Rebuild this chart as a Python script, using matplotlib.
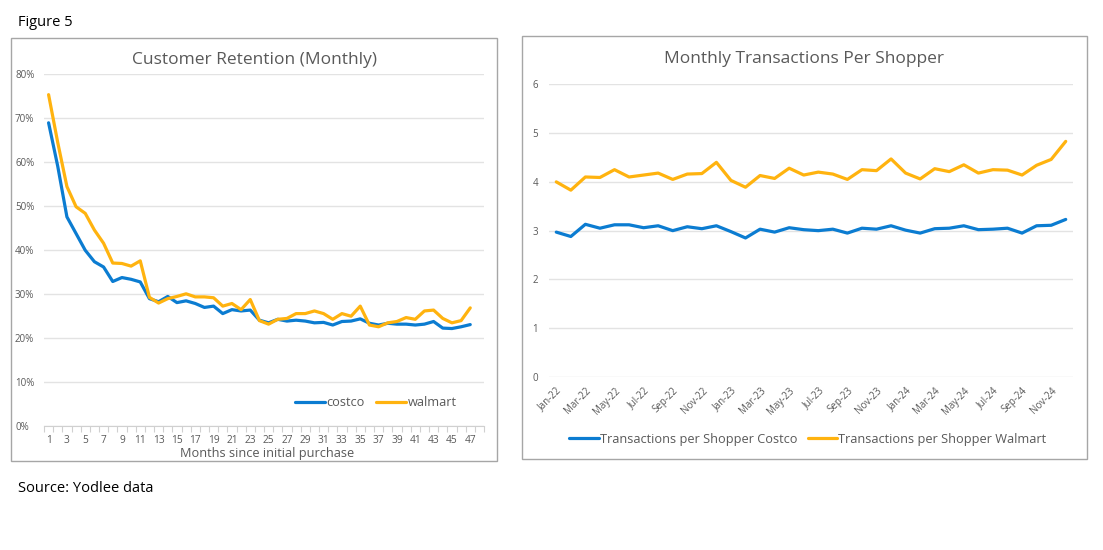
import matplotlib
matplotlib.use("Agg")
import matplotlib.pyplot as plt
from matplotlib.patches import Rectangle
from matplotlib.ticker import FuncFormatter, FixedLocator

plt.rcParams['font.family'] = ['Open Sans', 'DejaVu Sans']

# ---------------- data ----------------
months = list(range(1, 48))
costco_ret = [68.9, 59.0, 47.5, 43.7, 39.9, 37.3, 36.1, 32.8, 33.7, 33.3,
              32.7, 28.9, 28.2, 29.4, 28.0, 28.4, 27.8, 26.9, 27.2, 25.5,
              26.4, 26.1, 26.3, 24.0, 23.4, 24.2, 23.8, 24.0, 23.8, 23.4,
              23.5, 22.9, 23.7, 23.8, 24.3, 23.3, 22.9, 23.3, 23.1, 23.1,
              22.9, 23.1, 23.7, 22.2, 22.1, 22.5, 23.0]
walmart_ret = [75.3, 64.4, 54.4, 49.8, 48.3, 44.5, 41.5, 37.0, 36.9, 36.3,
               37.5, 29.2, 27.9, 28.9, 29.4, 30.0, 29.3, 29.3, 29.1, 27.2,
               27.8, 26.4, 28.7, 23.9, 23.1, 24.2, 24.4, 25.5, 25.5, 26.1,
               25.5, 24.2, 25.5, 24.9, 27.2, 22.9, 22.5, 23.4, 23.7, 24.6,
               24.2, 26.1, 26.3, 24.4, 23.4, 23.9, 26.8]
n_month_cats = 48
ret_yticks = [0, 10, 20, 30, 40, 50, 60, 70, 80]

dates = ["Jan-22", "Feb-22", "Mar-22", "Apr-22", "May-22", "Jun-22", "Jul-22", "Aug-22",
         "Sep-22", "Oct-22", "Nov-22", "Dec-22", "Jan-23", "Feb-23", "Mar-23", "Apr-23",
         "May-23", "Jun-23", "Jul-23", "Aug-23", "Sep-23", "Oct-23", "Nov-23", "Dec-23",
         "Jan-24", "Feb-24", "Mar-24", "Apr-24", "May-24", "Jun-24", "Jul-24", "Aug-24",
         "Sep-24", "Oct-24", "Nov-24", "Dec-24"]
costco_tx = [2.97, 2.88, 3.13, 3.05, 3.12, 3.12, 3.06, 3.10, 3.00, 3.08,
             3.04, 3.10, 2.98, 2.85, 3.03, 2.97, 3.06, 3.02, 3.00, 3.03,
             2.95, 3.05, 3.03, 3.10, 3.01, 2.95, 3.04, 3.05, 3.10, 3.02,
             3.03, 3.05, 2.95, 3.10, 3.11, 3.23]
walmart_tx = [4.00, 3.83, 4.10, 4.09, 4.25, 4.10, 4.14, 4.18, 4.05, 4.16,
              4.17, 4.40, 4.03, 3.89, 4.13, 4.07, 4.28, 4.14, 4.20, 4.16,
              4.05, 4.25, 4.23, 4.47, 4.18, 4.06, 4.27, 4.21, 4.35, 4.18,
              4.25, 4.24, 4.14, 4.34, 4.46, 4.83]
tx_yticks = [0, 1, 2, 3, 4, 5, 6]

# ---------------- style ----------------
BLUE = '#0B7CD1'
GOLD = '#FFB30F'
GRID = '#E3E3E3'
TXT = '#595959'

W, H = 1103, 550
fig = plt.figure(figsize=(W / 100, H / 100), dpi=100)


def fx(px):
    return px / W


def fy(py):
    return 1 - py / H


PX2PT = 72 / 100

# panel frames
for (x0, y0, x1, y1) in [(11, 38, 497, 461), (522, 36, 1087, 459)]:
    fig.add_artist(Rectangle((fx(x0), fy(y1)), fx(x1 - x0), (y1 - y0) / H,
                             transform=fig.transFigure, fill=False,
                             edgecolor='#A6A6A6', linewidth=1.0))

fig.text(fx(18), fy(22), "Figure 5", fontsize=10.5, color='black', va='center', ha='left')
fig.text(fx(18), fy(488), "Source: Yodlee data", fontsize=10.5, color='black', va='center', ha='left')

# ---------------- left chart ----------------
ax1 = fig.add_axes([fx(44), fy(425.7), fx(484 - 44), (425.7 - 74) / H])
ax1.plot(months, costco_ret, color=BLUE, lw=2.3, solid_joinstyle='round', solid_capstyle='round', label='costco')
ax1.plot(months, walmart_ret, color=GOLD, lw=2.3, solid_joinstyle='round', solid_capstyle='round', label='walmart')
ax1.set_xlim(0.5, n_month_cats + 0.5)
ax1.set_ylim(0, 80)
ax1.set_yticks(ret_yticks)
ax1.yaxis.set_major_formatter(FuncFormatter(lambda v, p: f"{int(v)}%"))
ax1.set_xticks(months[::2])
ax1.set_xticklabels([str(m) for m in months[::2]])
ax1.xaxis.set_minor_locator(FixedLocator([i + 0.5 for i in range(0, n_month_cats + 1)]))
ax1.tick_params(axis='x', which='major', length=0, pad=7, labelsize=7.3, labelcolor=TXT)
ax1.tick_params(axis='x', which='minor', length=4, color='#D0D0D0', width=0.8)
ax1.tick_params(axis='y', length=0, pad=29 * PX2PT, labelsize=7, labelcolor=TXT)
for lab in ax1.get_yticklabels():
    lab.set_horizontalalignment('left')
ax1.grid(axis='y', color=GRID, lw=1.0)
ax1.set_axisbelow(True)
for s in ['top', 'right', 'left']:
    ax1.spines[s].set_visible(False)
ax1.spines['bottom'].set_color('#D0D0D0')
fig.text(fx(254), fy(60), "Customer Retention (Monthly)", fontsize=12.5, color=TXT,
         ha='center', va='center')
fig.text(fx(267), fy(454), "Months since initial purchase", fontsize=9.2, color=TXT,
         ha='center', va='center')
ax1.legend(loc='center', bbox_to_anchor=(fx(376), fy(403)), bbox_transform=fig.transFigure,
           ncol=2, frameon=False, fontsize=9.2, handlelength=2.3, handletextpad=0.15,
           columnspacing=0.9, labelcolor=TXT)

# ---------------- right chart ----------------
ax2 = fig.add_axes([fx(549), fy(377), fx(1073 - 549), (377 - 84.3) / H])
xs = list(range(len(dates)))
ax2.plot(xs, costco_tx, color=BLUE, lw=2.3, solid_joinstyle='round', solid_capstyle='round',
         label='Transactions per Shopper Costco')
ax2.plot(xs, walmart_tx, color=GOLD, lw=2.3, solid_joinstyle='round', solid_capstyle='round',
         label='Transactions per Shopper Walmart')
ax2.set_xlim(-0.5, len(dates) - 0.5)
ax2.set_ylim(0, 6)
ax2.set_yticks(tx_yticks)
ax2.set_xticks(xs[::2])
ax2.set_xticklabels(dates[::2], rotation=45, ha='right', va='top', rotation_mode='anchor')
ax2.tick_params(axis='x', length=0, pad=6, labelsize=7, labelcolor=TXT)
ax2.tick_params(axis='y', length=0, pad=11 * PX2PT, labelsize=7, labelcolor=TXT)
ax2.grid(axis='y', color=GRID, lw=1.0)
ax2.set_axisbelow(True)
for s in ['top', 'right', 'left', 'bottom']:
    ax2.spines[s].set_visible(False)
fig.text(fx(804), fy(59), "Monthly Transactions Per Shopper", fontsize=12.5, color=TXT,
         ha='center', va='center')
ax2.legend(loc='center', bbox_to_anchor=(fx(808), fy(439)), bbox_transform=fig.transFigure,
           ncol=2, frameon=False, fontsize=9.2, handlelength=2.3, handletextpad=0.1,
           columnspacing=0.8, labelcolor=TXT)

fig.savefig("out.png", dpi=100)
